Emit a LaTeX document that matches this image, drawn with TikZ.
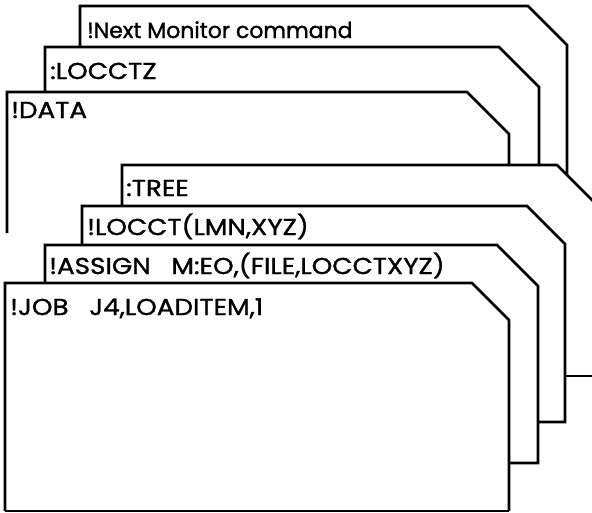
\documentclass[tikz,border=0pt]{standalone}
\usepackage{fontspec}
\setmainfont{Poppins}
\newfontfamily\capsfont{Poppins}[FakeStretch=1.14,FakeBold=1.3]
\newfontfamily\lowfont{Poppins}[FakeBold=1.3]
\begin{document}
\begin{tikzpicture}[x=1pt,y=-1pt,
  card/.style={line width=2.6pt,line join=miter,line cap=butt},
  lbl/.style={anchor=base west,inner sep=0pt,font=\capsfont\fontsize{23}{23}\selectfont},
  lbllow/.style={anchor=base west,inner sep=0pt,font=\lowfont\fontsize{22}{22}\selectfont}]
\useasboundingbox (0,0) rectangle (592,512);
\clip (0,0) rectangle (592,512);
% upper group (behind)
\draw[card] (80,47) -- (80,6) -- (528,6) -- (567,45) -- (567,175);
\draw[card] (45,92) -- (45,47) -- (499,47) -- (539,87) -- (539,165);
\draw[card] (7,233) -- (7,92) -- (467,92) -- (509,134) -- (509,165);
% lower group (front)
\draw[card] (122,206) -- (122,165) -- (557,165) -- (600,208);
\draw[card] (565,376) -- (600,376);
\draw[card] (82,245) -- (82,206) -- (527,206) -- (565,244) -- (565,422) -- (538,422);
\draw[card] (45,283) -- (45,245) -- (497,245) -- (538,286) -- (538,463) -- (509,463);
\draw[card] (5,511) -- (5,283) -- (472,283) -- (509,320) -- (509,511);
\draw[line width=1.6pt] (5,511) -- (509,511);
% labels
\node[lbllow] (tA) at (87,38) {!Next Monitor command};
\node[lbl] (tB) at (50,79) {:LOCCTZ};
\node[lbl] (tC) at (11,118) {!DATA};
\node[lbl] (tT) at (126,196) {:TREE};
\node[lbl] (tL) at (87,235) {!LOCCT(LMN,XYZ)};
\node[lbl] (tS) at (49,274) {!ASSIGN\hspace{0.9em}M:EO,(FILE,LOCCTXYZ)};
\node[lbl] (tJ) at (10,315) {!JOB\hspace{0.9em}J4,LOADITEM,1};
\end{tikzpicture}
\end{document}
